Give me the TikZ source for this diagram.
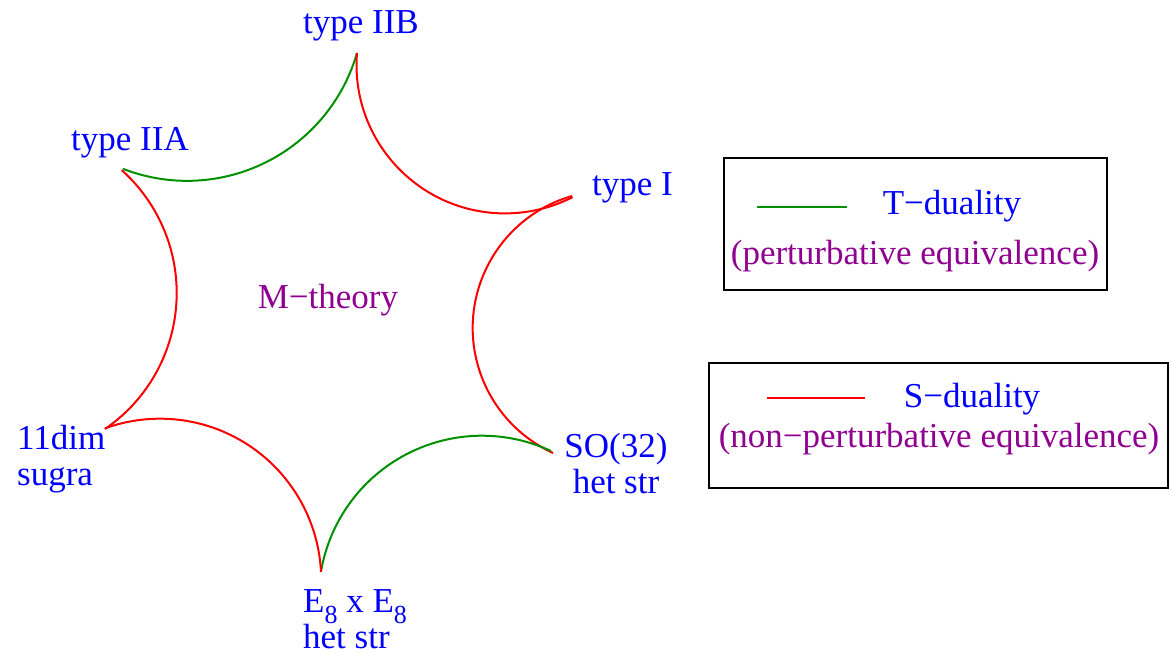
\documentclass[tikz,border=0pt]{standalone}
\usepackage{fontspec}
\setmainfont{Liberation Serif}
\definecolor{labelblue}{RGB}{0,0,255}
\definecolor{notepurple}{RGB}{144,0,144}
\definecolor{tgreen}{RGB}{0,144,0}
\definecolor{sred}{RGB}{255,0,0}
\tikzset{
  lbl/.style={text=labelblue, font=\fontsize{35}{36}\selectfont, inner sep=0pt},
  note/.style={text=notepurple, font=\fontsize{35}{36}\selectfont, inner sep=0pt},
  tdual/.style={draw=tgreen, line width=2pt},
  sdual/.style={draw=sred, line width=2pt},
  legendbox/.style={draw=black, line width=2pt, inner sep=0pt, anchor=north west},
}
\newcommand{\eightsub}{{\fontsize{26}{26}\selectfont\raisebox{-11pt}{8}}}
\begin{document}
\begin{tikzpicture}[x=1pt, y=-1pt]
\useasboundingbox (0,0) rectangle (1171,653);

% cusps of the duality web
\coordinate (IIB) at (357,53);
\coordinate (IIA) at (123,169);
\coordinate (I)   at (572,196);
\coordinate (SO)  at (551,451);
\coordinate (E8)  at (321,572);
\coordinate (M11) at (105,429);

% arcs between neighbouring theories
\draw[tdual] (IIB) arc[start angle=16.1,  end angle=111.2, radius=176.9];
\draw[sdual] (IIB) arc[start angle=184.6, end angle=62.9,  radius=148.5];
\draw[sdual] (I)   arc[start angle=253.9, end angle=114.5, radius=137.4];
\draw[tdual] (SO)  arc[start angle=-65,   end angle=-170,  radius=163.3];
\draw[sdual] (E8)  arc[start angle=-2.8,  end angle=-110,  radius=161.2];
\draw[sdual] (M11) arc[start angle=55.6,  end angle=-48.2, radius=164.8];

% theory labels (multi-line nodes are placed by their last baseline)
\node[lbl, anchor=base] (lIIB) at (361,33) {type IIB};
\node[lbl, anchor=base] (lIIA) at (130,150) {type IIA};
\node[lbl, anchor=base west] (lI) at (592,195) {type I};
\node[note, anchor=base] (lM) at (328,308) {M−theory};
\node[lbl, anchor=base west, align=left] (l11) at (17,485) {11dim\\sugra};
\node[lbl, anchor=base, align=center] (lSO) at (616,493) {SO(32)\\het str};
\node[lbl, anchor=base west, align=left] (lE8) at (303,648) {E\eightsub\ x E\eightsub\\het str};

% legend: T-duality
\node[legendbox, minimum width=383pt, minimum height=132pt] (tbox) at (723,157) {};
\coordinate (tA) at (757,207);
\coordinate (tB) at (847,207);
\draw[tdual] (tA) -- (tB);
\node[lbl, anchor=base] (tname) at (952,214) {T−duality};
\node[note, anchor=base] (tnote) at (915,264) {(perturbative equivalence)};

% legend: S-duality
\node[legendbox, minimum width=459pt, minimum height=125pt] (sbox) at (708,362) {};
\coordinate (sA) at (767,398);
\coordinate (sB) at (865,398);
\draw[sdual] (sA) -- (sB);
\node[lbl, anchor=base] (sname) at (972,407) {S−duality};
\node[note, anchor=base] (snote) at (939,447) {(non−perturbative equivalence)};
\end{tikzpicture}
\end{document}
